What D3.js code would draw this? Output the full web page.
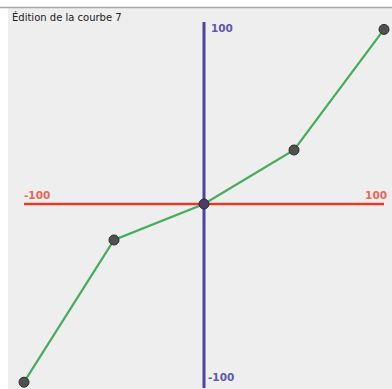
<!DOCTYPE html>
<html>
<head>
<meta charset="utf-8">
<script src="https://cdn.jsdelivr.net/npm/d3@7"></script>
<style>
  body { margin: 0; background: #fff; }
  svg { display: block; }
</style>
</head>
<body>
<svg id="chart"></svg>
<script>
// curve points (input -> output)
const xValues = [-100, -50, 0, 50, 100];
const yValues = [-99, -20, 0, 30, 97];
const xLabels = ['-100', '100'];
const yLabels = ['100', '-100'];
const title = 'Édition de la courbe 7';

const width = 392, height = 389;

const svg = d3.select('#chart')
  .attr('width', width)
  .attr('height', height);

// panel background
svg.append('rect')
  .attr('x', 8).attr('y', 8)
  .attr('width', width - 8).attr('height', height - 8)
  .attr('fill', '#eeeeee');

svg.append('line')
  .attr('x1', 0).attr('x2', width)
  .attr('y1', 7.5).attr('y2', 7.5)
  .attr('stroke', '#a8a8a8')
  .attr('stroke-width', 1.5);

svg.append('text')
  .attr('x', 12).attr('y', 21)
  .attr('font-family', 'DejaVu Sans, sans-serif')
  .attr('font-size', 10)
  .attr('fill', '#222')
  .text(title);

const x = d3.scaleLinear().domain([-100, 100]).range([24, 384]);
const y = d3.scaleLinear().domain([-100, 100]).range([384, 24]);

// horizontal (input) axis
svg.append('line')
  .attr('x1', x(-100)).attr('x2', x(100))
  .attr('y1', y(0)).attr('y2', y(0))
  .attr('stroke', '#e43a2c')
  .attr('stroke-width', 2.5);

svg.selectAll('text.xlab')
  .data(xLabels)
  .join('text')
  .attr('class', 'xlab')
  .attr('x', (d, i) => i === 0 ? x(+d) : x(+d) + 3)
  .attr('y', y(0) - 5)
  .attr('text-anchor', (d, i) => i === 0 ? 'start' : 'end')
  .attr('font-family', 'DejaVu Sans, sans-serif')
  .attr('font-weight', 'bold')
  .attr('font-size', 10.5)
  .attr('fill', '#e8685c')
  .text(d => d);

// vertical (output) axis
svg.append('line')
  .attr('x1', x(0)).attr('x2', x(0))
  .attr('y1', y(100) - 2).attr('y2', y(-100) + 4)
  .attr('stroke', '#4d44a2')
  .attr('stroke-width', 3);

svg.selectAll('text.ylab')
  .data(yLabels)
  .join('text')
  .attr('class', 'ylab')
  .attr('x', (d, i) => i === 0 ? x(0) + 7 : x(0) + 4)
  .attr('y', (d, i) => i === 0 ? y(+d) + 8 : y(+d) - 3)
  .attr('font-family', 'DejaVu Sans, sans-serif')
  .attr('font-weight', 'bold')
  .attr('font-size', 10.5)
  .attr('fill', '#6058ac')
  .text(d => d);

// curve
const points = xValues.map((v, i) => [v, yValues[i]]);

svg.append('path')
  .datum(points)
  .attr('fill', 'none')
  .attr('stroke', '#44ac5c')
  .attr('stroke-width', 2.2)
  .attr('d', d3.line().x(d => x(d[0])).y(d => y(d[1])));

svg.selectAll('circle')
  .data(points)
  .join('circle')
  .attr('cx', d => x(d[0]))
  .attr('cy', d => y(d[1]))
  .attr('r', 5)
  .attr('fill', (d) => d[0] === 0 ? '#4a3a6a' : '#4e524e')
  .attr('stroke', '#2c2c2c')
  .attr('stroke-width', 1);
</script>
</body>
</html>
